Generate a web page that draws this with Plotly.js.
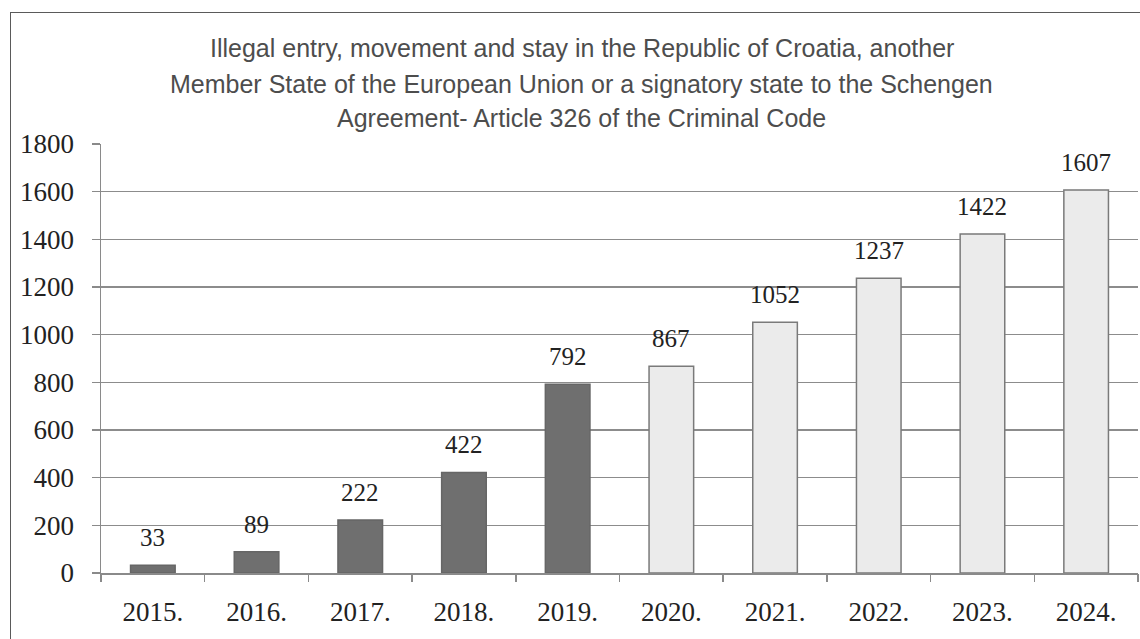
<!DOCTYPE html>
<html><head><meta charset="utf-8">
<script src="https://cdn.plot.ly/plotly-3.0.1.min.js"></script>
<style>
body{margin:0;background:#fff;}
#frame{position:absolute;left:10px;top:12px;width:1200px;height:700px;border:1.5px solid #5a5a5a;box-sizing:border-box;}
#chart{position:absolute;left:0;top:0;width:1140px;height:639px;}
</style></head>
<body>
<div id="frame"></div>
<div id="chart"></div>
<script>
const years = ['2015.','2016.','2017.','2018.','2019.','2020.','2021.','2022.','2023.','2024.'];
const values = [33,89,222,422,792,867,1052,1237,1422,1607];
const fillColors = ['#6f6f6f','#6f6f6f','#6f6f6f','#6f6f6f','#6f6f6f','#ebebeb','#ebebeb','#ebebeb','#ebebeb','#ebebeb'];
const lineColors = ['#666666','#666666','#666666','#666666','#666666','#7a7a7a','#7a7a7a','#7a7a7a','#7a7a7a','#7a7a7a'];
const yTicks = [0,200,400,600,800,1000,1200,1400,1600,1800];
const titleLines = [
  'Illegal entry, movement and stay in the Republic of Croatia, another',
  'Member State of the European Union or a signatory state to the Schengen',
  'Agreement- Article 326 of the Criminal Code'
];

const serif = 'Liberation Serif, Times New Roman, serif';
const sans = 'Liberation Sans, Arial, sans-serif';
const positions = years.map((_,i)=>i);

const trace = {
  type:'bar', x:positions, y:values,
  marker:{color:fillColors, line:{color:lineColors, width:1.5}},
  hoverinfo:'none'
};

const annotations = positions.map((p,i)=>({
  x:p, y:values[i], xref:'x', yref:'y', text:String(values[i]),
  showarrow:false, yanchor:'bottom', yshift:12,
  font:{family:serif, size:25, color:'#222'}
}));

const titleY = [1.2238, 1.1399, 1.0606];
titleLines.forEach((t,i)=>annotations.push({
  x:0.4638, y:titleY[i], xref:'paper', yref:'paper', text:t, showarrow:false,
  xanchor:'center', yanchor:'middle',
  font:{family:sans, size:25, color:'#4d4d4d'}
}));

const layout = {
  width:1140, height:639,
  margin:{l:101, r:2, t:144, b:66},
  paper_bgcolor:'rgba(0,0,0,0)', plot_bgcolor:'rgba(0,0,0,0)',
  bargap:0.57,
  showlegend:false,
  xaxis:{range:[-0.5,9.5], tickvals:positions, ticktext:years, showgrid:false,
    showline:true, linecolor:'#8a8a8a', linewidth:1.5, zeroline:false,
    ticks:'', ticklabelstandoff:14,
    tickfont:{family:serif, size:27, color:'#222'}},
  xaxis2:{overlaying:'x', matches:'x', range:[-0.5,9.5], tickvals:[-0.5,0.5,1.5,2.5,3.5,4.5,5.5,6.5,7.5,8.5,9.5],
    showticklabels:false, ticks:'outside', ticklen:8, tickcolor:'#8a8a8a', tickwidth:1.5,
    showgrid:false, showline:false, zeroline:false, anchor:'y'},
  yaxis:{range:[0,1800], tickvals:yTicks, showgrid:true, gridcolor:'#8c8c8c', gridwidth:1.5,
    showline:true, linecolor:'#8a8a8a', linewidth:1.5, zeroline:false,
    ticks:'outside', ticklen:8, tickcolor:'#8a8a8a', tickwidth:1.5,
    ticklabelstandoff:12,
    tickfont:{family:serif, size:27, color:'#222'}},
  annotations:annotations
};

const dummy = {type:'scatter', x:[0], y:[0], xaxis:'x2', yaxis:'y', mode:'none', hoverinfo:'none'};

Plotly.newPlot('chart',[trace, dummy],layout,{displayModeBar:false, staticPlot:true});
</script>
</body></html>
